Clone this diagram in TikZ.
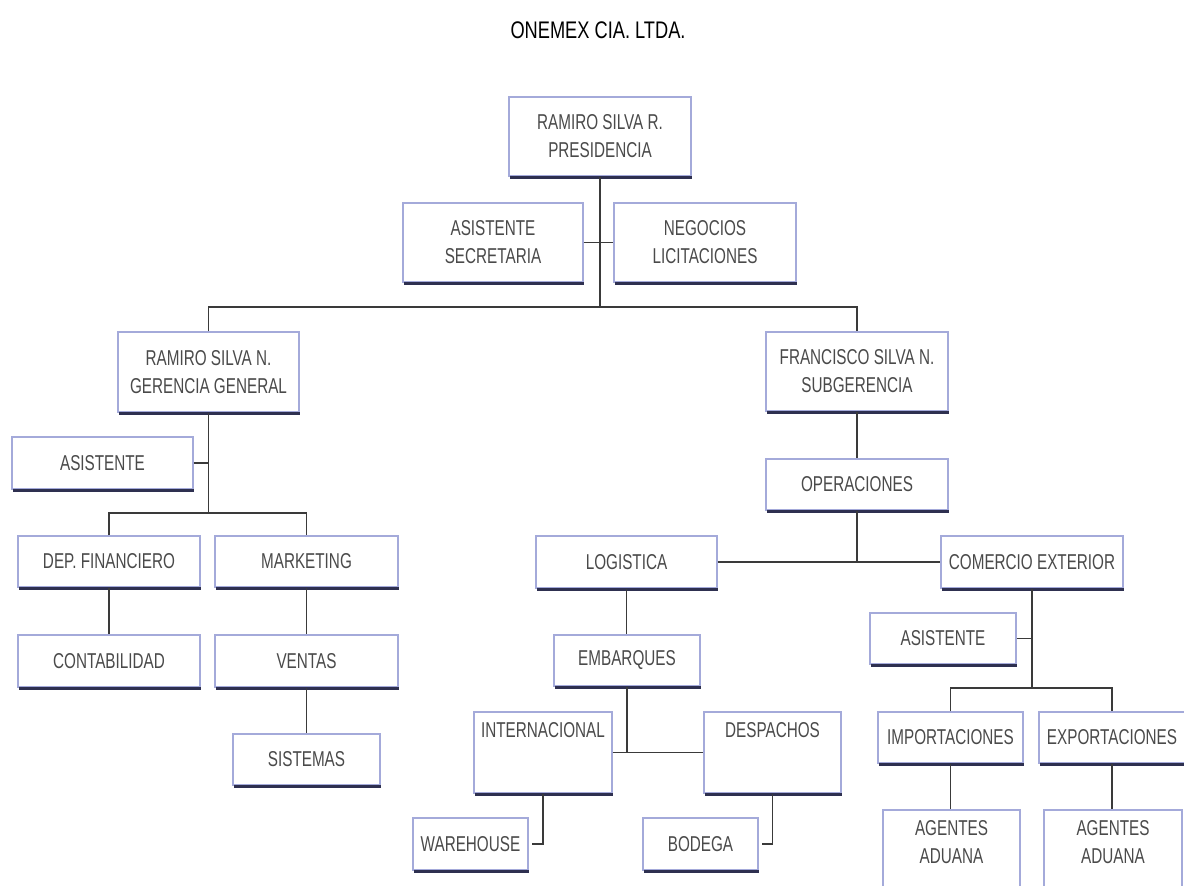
\documentclass[tikz,border=0pt]{standalone}
\usepackage{fontspec}
\newfontfamily\boxfont[FakeStretch=0.71]{Liberation Sans}
\newfontfamily\titlefont[FakeStretch=0.76]{Liberation Sans}
\definecolor{boxblue}{HTML}{A4AADA}
\definecolor{shadownavy}{HTML}{2E3050}
\definecolor{textgray}{HTML}{4A4A4A}
\definecolor{linegray}{HTML}{3A3A3A}
\begin{document}
\begin{tikzpicture}[x=1pt,y=-1pt,
  box/.style={draw=boxblue, line width=1.1pt, fill=white, inner sep=2pt, align=center,
    font=\boxfont\fontsize{21.5}{28}\selectfont, text=textgray},
  toplabel/.style={anchor=north, inner sep=0pt, align=center, yshift=-11pt,
    font=\boxfont\fontsize{21.5}{28}\selectfont, text=textgray},
  shadowline/.style={draw=shadownavy, line width=3.8pt},
  conn/.style={draw=linegray, line width=1.2pt}]
\useasboundingbox (0,0) rectangle (1184,886);
\clip (0,0) rectangle (1184,886);
\fill[white] (0,0) rectangle (1184,886);

\node[font=\titlefont\fontsize{24}{28}\selectfont, text=black] (title) at (598,30) {ONEMEX CIA. LTDA.};

% boxes
\node[box, minimum width=182, minimum height=79] (pres) at (600,136.5) {RAMIRO SILVA R.\\PRESIDENCIA};
\node[box, minimum width=180, minimum height=79] (asec) at (493,242.5) {ASISTENTE\\SECRETARIA};
\node[box, minimum width=182, minimum height=79] (neg) at (705,242.5) {NEGOCIOS\\LICITACIONES};
\node[box, minimum width=181, minimum height=80] (ger) at (208.5,372) {RAMIRO SILVA N.\\GERENCIA GENERAL};
\node[box, minimum width=182, minimum height=79] (sub) at (857,371.5) {FRANCISCO SILVA N.\\SUBGERENCIA};
\node[box, minimum width=181, minimum height=52] (asi1) at (102.5,463) {ASISTENTE};
\node[box, minimum width=182, minimum height=51] (depf) at (109,561.5) {DEP. FINANCIERO};
\node[box, minimum width=183, minimum height=51] (mkt) at (306.5,561.5) {MARKETING};
\node[box, minimum width=182, minimum height=52] (cont) at (109,661) {CONTABILIDAD};
\node[box, minimum width=183, minimum height=52] (vent) at (306.5,661) {VENTAS};
\node[box, minimum width=147, minimum height=51] (sist) at (306.5,759.5) {SISTEMAS};
\node[box, minimum width=182, minimum height=51] (oper) at (857,484.5) {OPERACIONES};
\node[box, minimum width=181, minimum height=52] (log) at (626.5,562) {LOGISTICA};
\node[box, minimum width=182, minimum height=52] (com) at (1032,562) {COMERCIO EXTERIOR};
\node[box, minimum width=146, minimum height=51] (emb) at (627,660.5) {EMBARQUES};
\node[box, minimum width=138, minimum height=81,
  label={[toplabel]north:INTERNACIONAL}] (intl) at (543,752.5) {};
\node[box, minimum width=137, minimum height=81,
  label={[toplabel]north:DESPACHOS}] (desp) at (772.5,752.5) {};
\node[box, minimum width=115, minimum height=52] (ware) at (470.5,844) {WAREHOUSE};
\node[box, minimum width=115, minimum height=52] (bod) at (700.5,844) {BODEGA};
\node[box, minimum width=146, minimum height=51] (asi2) at (943,638.5) {ASISTENTE};
\node[box, minimum width=145, minimum height=51] (imp) at (950.5,737.5) {IMPORTACIONES};
\node[box, minimum width=146, minimum height=51] (exp) at (1112,737.5) {EXPORTACIONES};
\node[box, minimum width=137, minimum height=95,
  label={[toplabel]north:AGENTES\\ADUANA}] (ag1) at (951.5,857.5) {};
\node[box, minimum width=138, minimum height=95,
  label={[toplabel]north:AGENTES\\ADUANA}] (ag2) at (1113,857.5) {};

% shadows on the bottom edge
\foreach \n in {pres,asec,neg,ger,sub,asi1,depf,mkt,cont,vent,sist,oper,log,com,emb,intl,desp,ware,bod,asi2,imp,exp}
  \draw[shadowline] ([xshift=1.5pt,yshift=-1pt]\n.south west) -- ([yshift=-1pt]\n.south east);

% connectors
\coordinate (topj) at (600,307);
\coordinate (gj) at (208.5,513);
\coordinate (cj) at (1032,688);
\draw[conn] (pres.south) -- (topj);
\draw[conn] (asec.east) -- (neg.west);
\draw[conn] (ger.north) -- (ger.north |- topj) -- (sub.north |- topj) -- (sub.north);
\draw[conn] (ger.south) -- (gj);
\draw[conn] (asi1.east) -- (asi1.east -| gj);
\draw[conn] (depf.north) |- (gj) -| (mkt.north);
\draw[conn] (depf.south) -- (cont.north);
\draw[conn] (mkt.south) -- (vent.north);
\draw[conn] (vent.south) -- (sist.north);
\draw[conn] (sub.south) -- (oper.north);
\draw[conn] (oper.south) -- (oper.south |- log.east);
\draw[conn] (log.east) -- (com.west);
\draw[conn] (log.south) -- (log.south |- emb.north);
\draw[conn] (emb.south) -- (emb.south |- intl.east);
\draw[conn] (intl.east) -- (desp.west);
\draw[conn] (intl.south) |- ([xshift=3pt]ware.east);
\draw[conn] (desp.south) |- ([xshift=3pt]bod.east);
\draw[conn] (com.south) -- (cj);
\draw[conn] (asi2.east) -- (asi2.east -| cj);
\draw[conn] (imp.north) |- (cj) -| (exp.north);
\draw[conn] (imp.south) -- (imp.south |- ag1.north);
\draw[conn] (exp.south) -- (exp.south |- ag2.north);
\end{tikzpicture}
\end{document}
